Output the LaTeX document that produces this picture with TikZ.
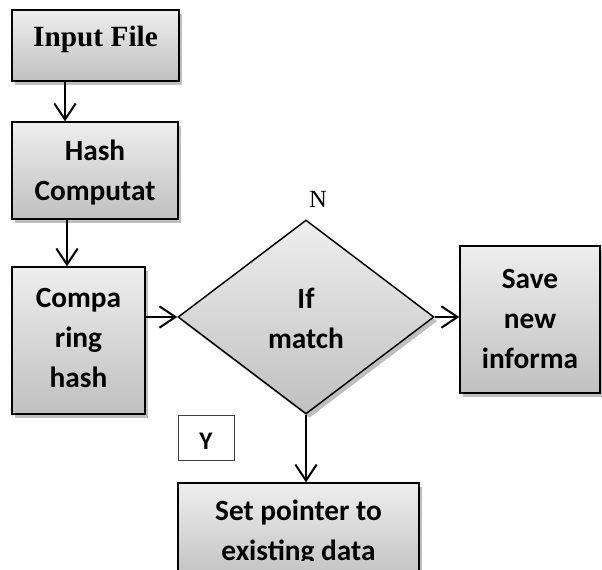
\documentclass[tikz,border=0pt]{standalone}
\usepackage{fontspec}
\newfontfamily\carlito{Carlito}
\newfontfamily\tnr{Liberation Serif}
\usetikzlibrary{shapes.geometric,arrows.meta,shadows}
\definecolor{gtop}{RGB}{238,238,238}
\definecolor{gbot}{RGB}{192,192,192}
\tikzset{
  px/.style={x=0.75pt,y=-0.75pt},
  box/.style={draw=black,line width=1.1pt,top color=gtop,bottom color=gbot,
    inner sep=0pt,
    drop shadow={shadow xshift=2.5pt,shadow yshift=-3pt,fill=black,opacity=0.25}},
  dia/.style={box,diamond,aspect=1},
  lbl/.style={font=\carlito\bfseries\fontsize{22}{30}\selectfont,align=center,inner sep=0pt},
  arr/.style={line width=1.5pt,-{Straight Barb[length=12pt,width=16pt,line width=1.5pt]}},
}
\begin{document}
\begin{tikzpicture}[px]
\useasboundingbox (0,0) rectangle (602,569);
\clip (0,0) rectangle (602,569);
% boxes
\node[box,minimum width=125.25pt,minimum height=53.25pt] (inp) at (95.5,45.5) {};
\node[box,minimum width=124.5pt,minimum height=72.75pt] (hash) at (95,170.5) {};
\node[box,minimum width=99.75pt,minimum height=110.25pt] (cmp) at (78.5,340.5) {};
\node[dia,minimum width=192pt,minimum height=145.5pt] (dec) at (306,317) {};
\node[box,minimum width=105pt,minimum height=110.25pt] (save) at (530,319.5) {};
\node[box,minimum width=180.75pt,minimum height=75pt] (set) at (298.5,533) {};
\node[draw=black!75,line width=0.7pt,fill=white,minimum width=42pt,minimum height=33.75pt,inner sep=0pt] (ybox) at (206,437.5) {};
% texts
\node[inner sep=0pt,font=\tnr\bfseries\fontsize{22}{26}\selectfont] (tinp) at (95.5,39.5) {Input File};
\node[lbl] (thash) at (95,173) {Hash\\Computat};
\node[lbl] (tcmp) at (78.5,338) {Compa\\ring\\hash};
\node[lbl] (tdec) at (306,318) {If\\match};
\node[lbl] (tsave) at (530,318.5) {Save\\new\\informa};
\begin{scope}
\clip (178,483) rectangle (419,560);
\node[lbl] (tset) at (298.5,533) {Set pointer to\\existing data};
\end{scope}
\node[inner sep=0pt,font=\carlito\bfseries\fontsize{19}{22}\selectfont] (ty) at (206,441) {Y};
\node[inner sep=0pt,font=\tnr\fontsize{18.5}{22}\selectfont] (tn) at (318,199.5) {N};
% connectors
\draw[arr] (inp.south -| 65,0) -- (hash.north -| 65,0);
\draw[arr] (hash.south -| 67,0) -- (cmp.north -| 67,0);
\draw[arr] (cmp.east |- dec.west) -- (dec.west);
\draw[arr] (dec.east) -- (save.west |- dec.east);
\draw[arr] (dec.south) -- (set.north -| dec.south);
\end{tikzpicture}
\end{document}
